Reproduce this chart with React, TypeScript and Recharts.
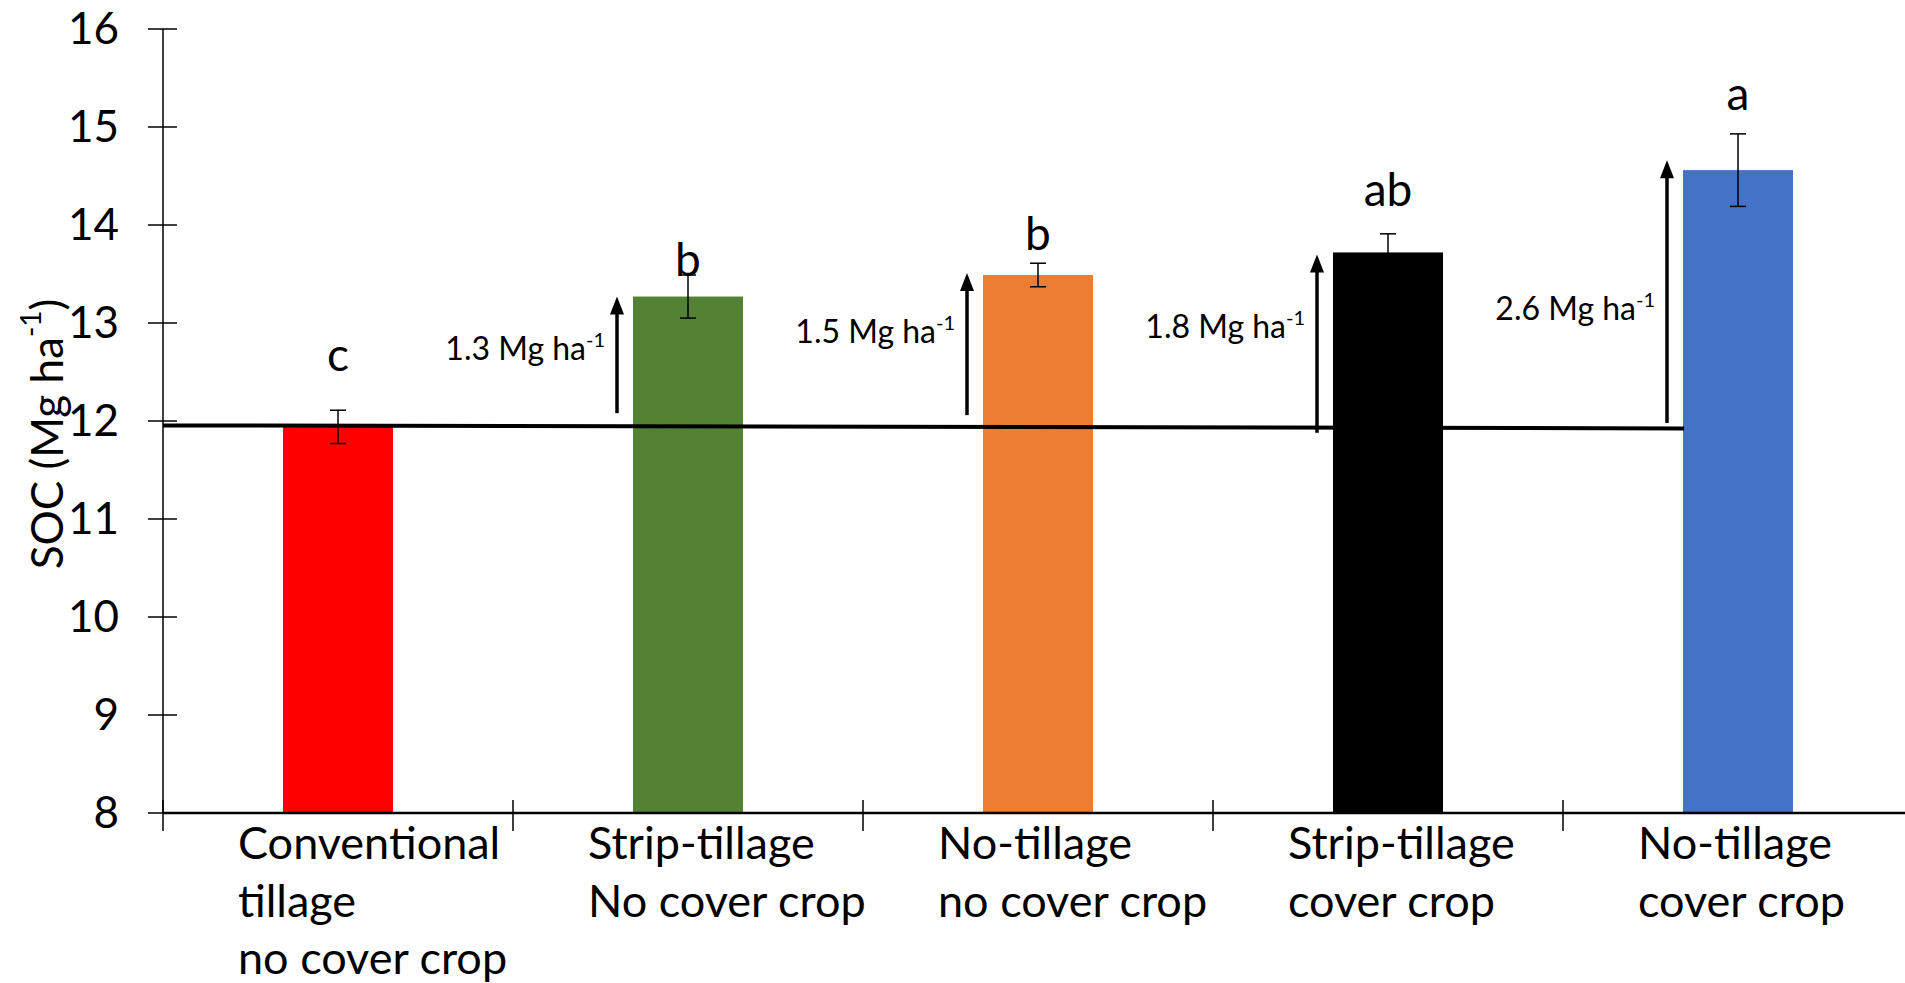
import React from 'react';
import { BarChart, Bar, XAxis, YAxis, ErrorBar, ReferenceLine, Cell } from 'recharts';

const categories = [
  'Conventional\ntillage\nno cover crop',
  'Strip-tillage\nNo cover crop',
  'No-tillage\nno cover crop',
  'Strip-tillage\ncover crop',
  'No-tillage\ncover crop',
];
const socValues = [11.94, 13.27, 13.49, 13.72, 14.56];
const socErrors = [0.17, 0.22, 0.12, 0.19, 0.37];
const letters = ['c', 'b', 'b', 'ab', 'a'];
const letterBaseY = [12.51, 13.48, 13.74, 14.19, 15.17];
const gainLabels = ['', '1.3', '1.5', '1.8', '2.6'];
const gainLabelY = [0, 12.62, 12.8, 12.85, 13.03];
const arrowFrom = [0, 12.08, 12.06, 11.88, 11.98];
const arrowTo = [0, 13.27, 13.51, 13.7, 14.66];
const baselineValue = 11.94;
const baselineEndFraction = 4.346 / 5;
const yTicks = [8, 9, 10, 11, 12, 13, 14, 15, 16];
const barColors = ['#FF0000', '#548235', '#ED7D31', '#000000', '#4472C4'];

const Y_MIN = 8;
const Y_MAX = 16;
const FONT = "Lato, 'Open Sans', sans-serif";

const data = categories.map((c, i) => ({
  name: c,
  soc: socValues[i],
  err: socErrors[i],
  letter: letters[i],
  letterY: letterBaseY[i],
  gain: gainLabels[i],
  gainY: gainLabelY[i],
  aFrom: arrowFrom[i],
  aTo: arrowTo[i],
}));

const BarShape = (props: any) => {
  const { x, y, width, height, payload, fill } = props;
  const bottom = y + height;
  const ppu = height / (payload.soc - Y_MIN);
  const toPx = (v: number) => bottom - (v - Y_MIN) * ppu;
  const cx = x + width / 2;
  const ax = x - 16;
  const head = 18;
  return (
    <g>
      <rect x={x} y={y} width={width} height={height} fill={fill} />
      <text x={cx} y={toPx(payload.letterY)} textAnchor="middle" fontSize={46} fontFamily={FONT} fill="#000">
        {payload.letter}
      </text>
      {payload.gain ? (
        <g>
          <line x1={ax} x2={ax} y1={toPx(payload.aFrom)} y2={toPx(payload.aTo) + head - 2} stroke="#000" strokeWidth={3.5} />
          <polygon
            points={`${ax},${toPx(payload.aTo)} ${ax - 7},${toPx(payload.aTo) + head} ${ax + 7},${toPx(payload.aTo) + head}`}
            fill="#000"
          />
          <text x={ax - 12} y={toPx(payload.gainY)} textAnchor="end" fontSize={32} fontFamily={FONT} fill="#000">
            {payload.gain + ' Mg ha'}
            <tspan fontSize={20} dy={-13}>-1</tspan>
          </text>
        </g>
      ) : null}
    </g>
  );
};

const YTick = (props: any) => {
  const { x, y, payload } = props;
  return (
    <g>
      <line x1={x - 13} x2={x + 16} y1={y} y2={y} stroke="#000" strokeWidth={1.5} />
      <text x={x - 42} y={y + 15} textAnchor="end" fontSize={44} fontFamily={FONT} fill="#000">
        {payload.value}
      </text>
    </g>
  );
};

const XTick = (props: any) => {
  const { x, y, payload } = props;
  const half = payload && payload.offset ? payload.offset : 175;
  const lines = String(payload.value).split('\n');
  const bx = x - half;
  return (
    <g>
      <line x1={bx} x2={bx} y1={y - 15} y2={y + 16} stroke="#000" strokeWidth={1.5} />
      <text x={x - 100} y={y + 44} textAnchor="start" fontSize={45} fontFamily={FONT} fill="#000">
        {lines.map((l, i) => (
          <tspan key={i} x={x - 100} dy={i === 0 ? 0 : 57.5}>
            {l}
          </tspan>
        ))}
      </text>
    </g>
  );
};

const BaselineShape = (props: any) => {
  const { x1, x2, y1, y2 } = props;
  const xe = x1 + (x2 - x1) * baselineEndFraction;
  return <line x1={x1} y1={y1 - 1.5} x2={xe} y2={y2 + 1.5} stroke="#000" strokeWidth={4} />;
};

const YLabel = () => (
  <text
    x={46}
    y={434}
    transform="rotate(-90 46 434)"
    textAnchor="middle"
    dominantBaseline="central"
    fontSize={44}
    fontFamily={FONT}
    fill="#000"
  >
    SOC (Mg ha
    <tspan fontSize={28} dy={-16}>-1</tspan>
    <tspan dy={16}>)</tspan>
  </text>
);

export default function App() {
  return (
    <div style={{ position: 'fixed', left: 0, top: 0, width: 1905, height: 983, overflow: 'hidden', background: '#fff' }}>
      <BarChart width={1920} height={983} data={data} margin={{ top: 29, right: 7, bottom: 0, left: 0 }}>
        <XAxis
          dataKey="name"
          interval={0}
          height={170}
          tickLine={false}
          tickSize={0}
          tick={<XTick />}
          axisLine={{ stroke: '#000', strokeWidth: 2.5 }}
        />
        <YAxis
          width={163}
          domain={[Y_MIN, Y_MAX]}
          ticks={yTicks}
          allowDataOverflow
          tickLine={false}
          tickSize={0}
          tick={<YTick />}
          axisLine={{ stroke: '#000', strokeWidth: 1.5 }}
          label={{ content: () => <YLabel /> }}
        />
        <Bar dataKey="soc" barSize={110} isAnimationActive={false} shape={<BarShape />}>
          {data.map((d, i) => (
            <Cell key={i} fill={barColors[i]} />
          ))}
          <ErrorBar dataKey="err" width={8} stroke="#000" strokeWidth={1.5} direction="y" isAnimationActive={false} />
        </Bar>
        <ReferenceLine y={baselineValue} stroke="#000" strokeWidth={4} shape={<BaselineShape />} />
      </BarChart>
    </div>
  );
}
